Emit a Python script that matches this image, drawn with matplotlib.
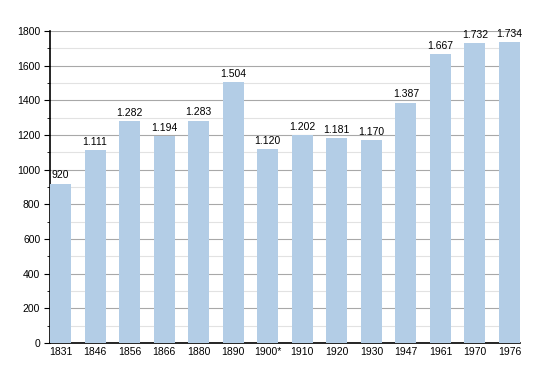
import numpy as np
import matplotlib.pyplot as plt
from matplotlib.ticker import MultipleLocator

# Bevölkerungsentwicklung
years = ['1831', '1846', '1856', '1866', '1880', '1890', '1900*',
         '1910', '1920', '1930', '1947', '1961', '1970', '1976']
population = [920, 1111, 1282, 1194, 1283, 1504, 1120,
              1202, 1181, 1170, 1387, 1667, 1732, 1734]

plt.rcParams['font.family'] = ['Liberation Sans', 'DejaVu Sans']

fig = plt.figure(figsize=(5.5, 3.73), dpi=100)
ax = fig.add_axes([50/550, 30/373, 470/550, 312/373])

x = np.arange(len(years))
w = 0.61
ax.bar(x, population, width=w, color='#b3cde6', zorder=3)

for xi, v in zip(x, population):
    lab = f'{v:,}'.replace(',', '.')
    ax.text(xi, v + 18, lab, ha='center', va='bottom', fontsize=7.5, zorder=4)

ax.set_xlim(-w/2, len(years) - 1 + w/2)
ax.set_ylim(0, 1800)
ax.yaxis.set_major_locator(MultipleLocator(200))
ax.yaxis.set_minor_locator(MultipleLocator(100))
ax.grid(axis='y', which='major', color='#a8a8a8', lw=0.8, zorder=0)
ax.grid(axis='y', which='minor', color='#e2e2e2', lw=0.8, zorder=0)

ax.set_xticks(x)
ax.set_xticklabels(years)
ax.tick_params(axis='x', length=0, labelsize=7.5, pad=3)
ax.tick_params(axis='y', which='major', length=4, labelsize=7.5, pad=3)
ax.tick_params(axis='y', which='minor', length=2)

for s in ['top', 'right']:
    ax.spines[s].set_visible(False)
ax.spines['left'].set_linewidth(1.2)
ax.spines['bottom'].set_linewidth(1.2)

plt.savefig('out.png', dpi=100)
